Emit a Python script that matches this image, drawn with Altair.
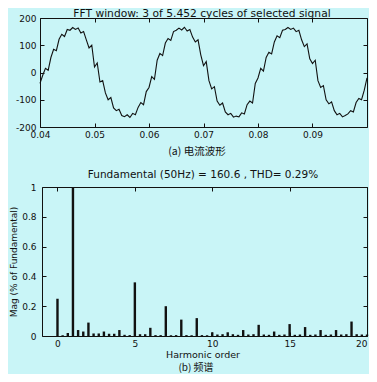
import altair as alt
import pandas as pd

# ---------------- data ----------------
t_start = 0.04
t_step = 0.0005
current = [
    -40, -10, 15, 8, 55, 85, 80, 122, 140, 132,
    158, 155, 165, 158, 163, 145, 150, 120, 90, 100,
    20, 35, -35, -30, -75, -100, -92, -130, -140, -135,
    -158, -162, -155, -165, -150, -155, -128, -110, -118, -70,
    -55, -15, -25, 45, 70, 62, 108, 125, 118, 150,
    155, 163, 156, 166, 152, 158, 130, 112, 120, 65,
    25, 40, -30, -60, -52, -105, -120, -112, -145, -155,
    -150, -164, -160, -163, -148, -152, -118, -105, -112, -40,
    -20, 15, 5, 55, 74, 68, 112, 135, 128, 155,
    158, 165, 158, 163, 150, 155, 120, 95, 105, 50,
    33, 45, -30, -55, -48, -100, -115, -108, -140, -155,
    -150, -163, -158, -152, -140, -145, -110, -95, -100, -65,
    -20,
]

# harmonic magnitudes, spectral lines every 1/3 order from 0 to 20
harmonic_mag = [
    0.25, 0.005, 0.02,
    1.0, 0.04, 0.03,
    0.09, 0.017, 0.017,
    0.03, 0.015, 0.015,
    0.04, 0.008, 0.006,
    0.36, 0.012, 0.012,
    0.055, 0.006, 0.006,
    0.20, 0.005, 0.006,
    0.11, 0.006, 0.005,
    0.12, 0.006, 0.005,
    0.025, 0.010, 0.012,
    0.025, 0.012, 0.008,
    0.04, 0.010, 0.012,
    0.075, 0.010, 0.008,
    0.03, 0.008, 0.010,
    0.08, 0.008, 0.010,
    0.06, 0.008, 0.010,
    0.04, 0.008, 0.010,
    0.04, 0.010, 0.012,
    0.097, 0.012, 0.010,
    0.01,
]

top_title = "FFT window: 3 of 5.452 cycles of selected signal"
top_caption = "(a) 电流波形"
bottom_title = "Fundamental (50Hz) = 160.6 , THD= 0.29%"
bottom_caption = "(b) 频谱"
x_title_b = "Harmonic order"
y_title_b = "Mag (% of Fundamental)"

x_ticks_a = [0.04, 0.05, 0.06, 0.07, 0.08, 0.09]
y_ticks_a = [-200, -100, 0, 100, 200]
x_ticks_b = [0, 5, 10, 15, 20]
y_ticks_b = [0, 0.2, 0.4, 0.6, 0.8, 1]

wave = pd.DataFrame({
    "t": [t_start + t_step * i for i in range(len(current))],
    "current": current,
})
spec = pd.DataFrame({
    "order": [i / 3 for i in range(len(harmonic_mag))],
    "mag": harmonic_mag,
})

# ---------------- layout / style ----------------
W, H = 361, 366
FONT = "DejaVu Sans"
CJK = "Noto Sans CJK SC"
INK = "#111111"
BG = "#c9f5f7"

A_L, A_R, A_T, A_B = 32, 359, 10, 119
B_L, B_R, B_T, B_B = 34, 359, 179, 328


def axis(orient, offset, values, labels=False, ticks=False, domain=False, pad=3, flush=False):
    kw = dict(
        orient=orient, offset=offset, values=values,
        labels=labels, ticks=ticks, domain=domain, grid=False,
        domainColor=INK, domainWidth=1, tickColor=INK, tickSize=4, tickWidth=1,
        labelFont=FONT, labelFontSize=9, labelColor=INK, labelPadding=pad,
        labelFlush=flush, labelOverlap=False,
    )
    if labels:
        kw["labelExpr"] = "toString(datum.value)"
    return alt.Axis(**kw)


def sx_a():
    return alt.Scale(domain=[0.04, 0.1], range=[A_L, A_R], nice=False, zero=False)


def sy_a():
    return alt.Scale(domain=[-200, 200], range=[A_B, A_T], nice=False, zero=False)


def sx_b():
    return alt.Scale(domain=[-1, 20], range=[B_L, B_R], nice=False, zero=False)


def sy_b():
    return alt.Scale(domain=[0, 1], range=[B_B, B_T], nice=False, zero=False)


def wave_layer(xax, yax, opacity):
    return alt.Chart(wave).mark_line(color=INK, strokeWidth=1.1, opacity=opacity).encode(
        x=alt.X("t:Q", scale=sx_a(), axis=xax, title=None),
        y=alt.Y("current:Q", scale=sy_a(), axis=yax, title=None),
    )


def spec_layer(xax, yax, opacity):
    return alt.Chart(spec).mark_rule(color=INK, strokeWidth=2.4, opacity=opacity).encode(
        x=alt.X("order:Q", scale=sx_b(), axis=xax, title=None),
        y=alt.Y("mag:Q", scale=sy_b(), axis=yax, title=None),
        y2=alt.datum(0),
    )


a1 = wave_layer(
    axis("bottom", A_B - H, x_ticks_a, labels=True, domain=True, pad=3),
    axis("left", -A_L, y_ticks_a, labels=True, domain=True, pad=4),
    1,
)
a2 = wave_layer(
    axis("top", -A_B, x_ticks_a, ticks=True),
    axis("right", A_L - W, y_ticks_a, ticks=True),
    0,
)
a3 = wave_layer(
    axis("bottom", A_T - H, x_ticks_a, ticks=True, domain=True),
    axis("left", -A_R, y_ticks_a, ticks=True, domain=True),
    0,
)

b1 = spec_layer(
    axis("bottom", B_B - H, x_ticks_b, labels=True, domain=True, pad=3, flush=True),
    axis("left", -B_L, y_ticks_b, labels=True, domain=True, pad=6),
    1,
)
b2 = spec_layer(
    axis("top", -B_B, x_ticks_b, ticks=True),
    axis("right", B_L - W, y_ticks_b, ticks=True),
    0,
)
b3 = spec_layer(
    axis("bottom", B_T - H, x_ticks_b, ticks=True, domain=True),
    axis("left", -B_R, y_ticks_b, ticks=True, domain=True),
    0,
)


def text(s, x, y, size, font=FONT, angle=0, baseline="middle"):
    return alt.Chart(pd.DataFrame({"s": [s]})).mark_text(
        font=font, fontSize=size, color=INK, align="center",
        baseline=baseline, angle=angle,
    ).encode(text="s:N", x=alt.value(x), y=alt.value(y))


texts = [
    text(top_title, 194, 1, 10.7, baseline="top"),
    text(top_caption, 189, 144, 10.5, font=CJK),
    text(bottom_title, 195, 167, 10.5),
    text(x_title_b, 195, 347, 9.5),
    text(bottom_caption, 188, 360, 10, font=CJK),
    text(y_title_b, 6, 254, 9, angle=270),
]

chart = alt.layer(a1, a2, a3, b1, b2, b3, *texts).resolve_scale(
    x="independent", y="independent"
).resolve_axis(
    x="independent", y="independent"
).properties(
    width=W, height=H, padding=0,
    autosize=alt.AutoSizeParams(type="none"),
).configure(
    background=BG,
).configure_view(
    stroke=None,
)

chart.save("out.html", embed_options={"renderer": "svg", "actions": False})
